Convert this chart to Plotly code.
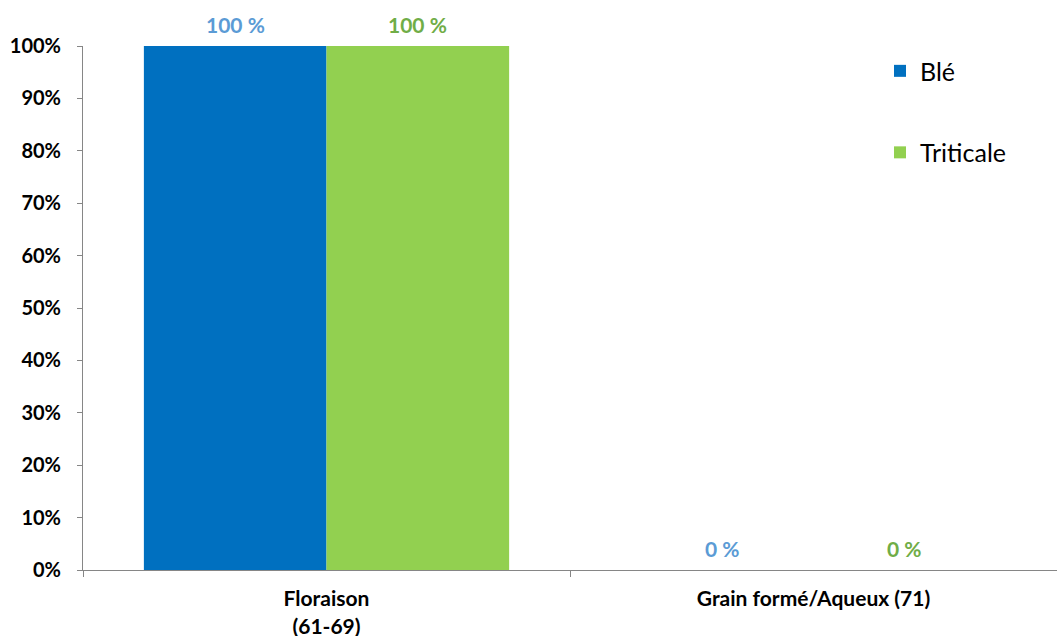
import plotly.graph_objects as go

categories = ["Floraison<br>(61-69)", "Grain formé/Aqueux (71)"]
series_names = ["Blé", "Triticale"]
ble_values = [1.0, 0.0]
triticale_values = [1.0, 0.0]
bar_colors = ["#0070C0", "#92D050"]
label_colors = ["#5B9BD5", "#70AD47"]
y_ticks = [i / 10 for i in range(11)]
y_tick_labels = [f"{i*10}%" for i in range(11)]

FONT = "Lato, 'Open Sans', sans-serif"

fig = go.Figure()
all_values = [ble_values, triticale_values]
for i, (name, vals) in enumerate(zip(series_names, all_values)):
    fig.add_trace(go.Bar(
        x=categories, y=vals, name=name,
        marker=dict(color=bar_colors[i], line=dict(width=0)),
        legendgroup=name,
    ))

# data labels
plot_left, plot_right = 83, 1057
cat_width = (plot_right - plot_left) / len(categories)
bar_w = cat_width * 0.75 / 2
for i, vals in enumerate(all_values):
    offset = (-0.5 + i) * bar_w
    for c, v in zip(categories, vals):
        fig.add_annotation(
            x=c, y=v, xref="x", yref="y",
            text=f"<b>{round(v*100)} %</b>",
            showarrow=False, xshift=offset, yshift=22,
            font=dict(family=FONT, size=21, color=label_colors[i]),
        )

fig.update_layout(
    width=1057, height=636,
    margin=dict(l=83, r=0, t=46, b=66),
    paper_bgcolor="white", plot_bgcolor="white",
    barmode="group", bargap=0.25, bargroupgap=0,
    font=dict(family=FONT, color="black"),
    legend=dict(
        x=(880 - 83) / (1057 - 83), y=0.996, yanchor="top",
        font=dict(family=FONT, size=25, color="black"),
        tracegroupgap=46, traceorder="grouped",
        bgcolor="rgba(0,0,0,0)",
    ),
    showlegend=True,
)
fig.update_xaxes(
    showline=True, linecolor="#868686", linewidth=1,
    ticks="outside", tickson="boundaries", ticklen=6, tickcolor="#868686",
    tickfont=dict(family=FONT, size=21, color="black", weight="bold"),
    ticklabelstandoff=10, automargin=False,
    showgrid=False,
)
fig.update_yaxes(
    range=[0, 1], tickvals=y_ticks, ticktext=y_tick_labels,
    showline=True, linecolor="#868686", linewidth=1,
    ticks="outside", ticklen=5, tickcolor="#868686",
    tickfont=dict(family=FONT, size=20, color="black", weight="bold"),
    ticklabelstandoff=12, automargin=False,
    showgrid=False, zeroline=False,
)
fig.write_html("out.html")
